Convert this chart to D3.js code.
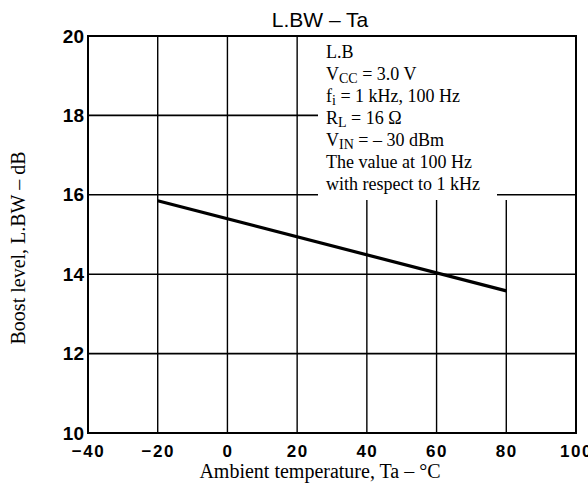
<!DOCTYPE html>
<html>
<head>
<meta charset="utf-8">
<script src="https://cdn.jsdelivr.net/npm/d3@7"></script>
<style>
  body { margin: 0; background: #fff; }
  svg { display: block; }
</style>
</head>
<body>
<div id="chart"></div>
<script>
// data
var temps = [-20, 80];
var boost = [15.85, 13.58];
var xTicks = [-40, -20, 0, 20, 40, 60, 80, 100];
var yTicks = [10, 12, 14, 16, 18, 20];
var legendLines = [
    [["L.B", 0]],
    [["V", 0], ["CC", 1], [" = 3.0 V", 0]],
    [["f", 0], ["i", 1], [" = 1 kHz, 100 Hz", 0]],
    [["R", 0], ["L", 1], [" = 16 \u03A9", 0]],
    [["V", 0], ["IN", 1], [" = \u2013 30 dBm", 0]],
    [["The value at 100 Hz", 0]],
    [["with respect to 1 kHz", 0]]
];

var W = 588, H = 486;
var margin = {top: 36, right: 12, bottom: 53, left: 88};

var svg = d3.select("#chart")
    .append("svg")
    .attr("width", W)
    .attr("height", H);

var x = d3.scaleLinear()
    .domain([-40, 100])
    .range([margin.left, W - margin.right]);
var y = d3.scaleLinear()
    .domain([10, 20])
    .range([H - margin.bottom, margin.top]);

// grid lines
var grid = svg.append("g").attr("stroke", "#000");
grid.selectAll("line.v")
    .data(xTicks)
    .enter().append("line")
    .attr("x1", function(d) { return x(d); })
    .attr("x2", function(d) { return x(d); })
    .attr("y1", y(10))
    .attr("y2", y(20))
    .attr("stroke-width", 1.4);
grid.selectAll("line.h")
    .data(yTicks)
    .enter().append("line")
    .attr("x1", x(-40))
    .attr("x2", x(100))
    .attr("y1", function(d) { return y(d); })
    .attr("y2", function(d) { return y(d); })
    .attr("stroke-width", 1.6);

// legend box blanks out the grid in the upper right
svg.append("rect")
    .attr("x", 318)
    .attr("y", y(20) + 1)
    .attr("width", x(100) - 318 - 1)
    .attr("height", 163)
    .attr("fill", "#fff");
// the 16 line shows again to the right of the legend text
svg.append("line")
    .attr("x1", 497)
    .attr("x2", x(100))
    .attr("y1", y(16))
    .attr("y2", y(16))
    .attr("stroke", "#000")
    .attr("stroke-width", 1.6);

// frame
svg.append("rect")
    .attr("x", x(-40))
    .attr("y", y(20))
    .attr("width", x(100) - x(-40))
    .attr("height", y(10) - y(20))
    .attr("fill", "none")
    .attr("stroke", "#000")
    .attr("stroke-width", 2);

// the curve
var line = d3.line()
    .x(function(d, i) { return x(temps[i]); })
    .y(function(d) { return y(d); });
svg.append("path")
    .datum(boost)
    .attr("d", line)
    .attr("fill", "none")
    .attr("stroke", "#000")
    .attr("stroke-width", 3.2);

// axes, drawn with d3 then stripped to the labels
var xAxis = svg.append("g")
    .attr("transform", "translate(0," + y(10) + ")")
    .call(d3.axisBottom(x).tickValues(xTicks).tickSize(0).tickPadding(0)
        .tickFormat(function(d) { return d < 0 ? "\u2212" + Math.abs(d) : d; }));
xAxis.select(".domain").remove();
xAxis.selectAll("text")
    .attr("dy", null)
    .attr("y", 24)
    .attr("fill", "#000")
    .style("font-family", "'Liberation Sans', Arial, sans-serif")
    .style("font-weight", "bold")
    .style("font-size", "17px")
    .style("letter-spacing", "1.5px");

var yAxis = svg.append("g")
    .attr("transform", "translate(" + x(-40) + ",0)")
    .call(d3.axisLeft(y).tickValues(yTicks).tickSize(0).tickPadding(4));
yAxis.select(".domain").remove();
yAxis.selectAll("text")
    .attr("fill", "#000")
    .style("font-family", "'Liberation Sans', Arial, sans-serif")
    .style("font-weight", "bold")
    .style("font-size", "19px");

// title
svg.append("text")
    .attr("x", 320)
    .attr("y", 27)
    .attr("text-anchor", "middle")
    .style("font-family", "'Liberation Sans', Arial, sans-serif")
    .style("font-size", "21px")
    .text("L.BW \u2013 Ta");

// axis titles
svg.append("text")
    .attr("x", 320)
    .attr("y", 478)
    .attr("text-anchor", "middle")
    .style("font-family", "'Liberation Serif', 'Times New Roman', serif")
    .style("font-size", "20px")
    .text("Ambient temperature, Ta \u2013 \u00B0C");

svg.append("text")
    .attr("transform", "translate(25,248) rotate(-90)")
    .attr("text-anchor", "middle")
    .style("font-family", "'Liberation Serif', 'Times New Roman', serif")
    .style("font-size", "20px")
    .text("Boost level, L.BW \u2013 dB");

// legend text
var legend = svg.append("g")
    .style("font-family", "'Liberation Serif', 'Times New Roman', serif")
    .style("font-size", "18px");
legend.selectAll("text")
    .data(legendLines)
    .enter().append("text")
    .attr("x", 326)
    .attr("y", function(d, i) { return 58 + i * 22; })
    .each(function(parts) {
        var t = d3.select(this);
        parts.forEach(function(p) {
            var ts = t.append("tspan").text(p[0]);
            if (p[1]) ts.attr("dy", 3).style("font-size", "14px");
            else if (t.selectAll("tspan").size() > 1) ts.attr("dy", -3);
        });
    });
</script>
</body>
</html>
